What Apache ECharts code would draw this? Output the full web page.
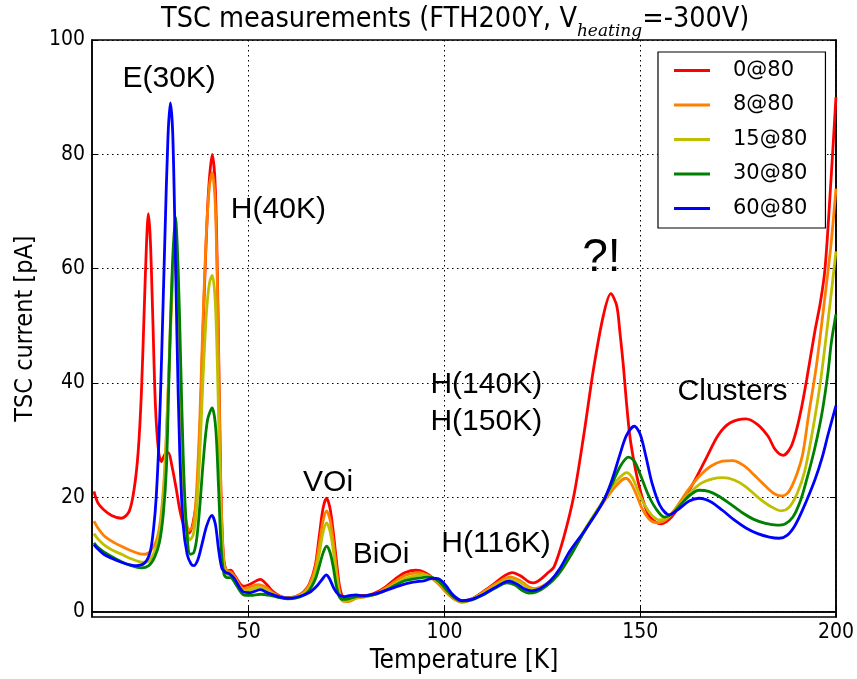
<!DOCTYPE html>
<html>
<head>
<meta charset="utf-8">
<script src="https://cdn.jsdelivr.net/npm/echarts@6/dist/echarts.min.js"></script>
<style>
  html, body { margin: 0; background: #fff; }
  #chart { width: 857px; height: 679px; }
</style>
</head>
<body>
<div id="chart"></div>
<script>
// [temperature K, current pA]
const red = [[10.5,21],[11.5,19],[13,17.8],[15,16.8],[17.5,16.3],[19.5,17.5],[20.8,21.6],[21.8,28],[22.6,38],[23.3,52],[23.9,64],[24.4,69.6],[24.9,65],[25.5,52],[26.2,36],[27,28],[27.7,26.2],[28.6,27.5],[29.5,27.8],[30.4,25.5],[31.5,21.5],[32.5,17.5],[33.5,15],[34.8,13.7],[35.8,15.5],[36.8,20],[37.6,32],[38.3,48],[39,62],[39.8,74],[40.7,80],[41.5,74],[42.2,52],[42.9,22],[43.6,9.5],[44.5,7.1],[45.4,7.2],[46.5,6.2],[48.7,4.4],[50.5,4.8],[52.1,5.4],[53,5.6],[54.5,4.8],[56,3.6],[58,2.7],[60,2.4],[62,2.6],[64,3.4],[65.5,4.8],[67,8],[68,13],[69,18],[69.9,19.8],[70.8,18],[71.6,14],[72.4,9],[73.2,4.5],[74.1,2.5],[75.5,2.3],[77.5,2.8],[80,2.8],[82.5,3.3],[85,4.3],[87.5,5.7],[90,6.8],[92.7,7.2],[95,6.8],[97.5,5.6],[100,3.8],[102,2.5],[104.5,1.8],[107,2.2],[110,3.5],[113,5],[115.5,6.3],[117.3,6.8],[119.5,6.2],[121.5,5.2],[122.8,5.0],[124.5,5.6],[126.5,6.8],[128,7.8],[130.5,13],[133.1,20.4],[135.6,30.9],[138.1,42.5],[140.6,51.8],[142.5,55.6],[144,53.5],[144.8,49],[145.7,43],[146.5,36.5],[147.3,31],[148.2,27],[149.2,23.5],[150.7,19.5],[152.5,16.5],[155.3,15.3],[158,16.5],[161,19.5],[164,23],[167,27],[170,30.9],[173,33],[177,33.7],[180,32.7],[182.7,30.6],[184.5,28.3],[186.5,27.3],[188.5,28.8],[190,32],[191.3,36],[192.5,40.5],[194.6,49],[196,54],[197.2,60],[198.5,73],[200,90]];
const orange = [[10.5,15.8],[11.5,14.6],[13,13.3],[15,12.3],[17.5,11.4],[20,10.6],[22,10.1],[23.5,10],[25,10.6],[26.5,12.5],[27.5,16],[28.5,24],[29.3,36],[30,48],[30.6,58],[31.1,62],[31.7,57],[32.3,42],[33,26],[33.8,17],[34.8,14.2],[35.8,15],[36.6,20],[37.5,33],[38.3,50],[39.2,66],[40,74.5],[40.7,76.8],[41.5,71],[42.2,50],[42.9,21],[43.6,9],[44.5,7],[45.4,6.9],[46.5,6],[48.7,4],[50.5,4.3],[52.5,4.7],[54.5,4.2],[56,3.3],[58,2.6],[60,2.4],[62,2.6],[64,3.3],[65.5,4.6],[67,7.5],[68,11.5],[69,15.8],[69.9,17.6],[70.8,16],[71.6,12.3],[72.4,7.5],[73.2,3.5],[74.1,1.8],[75.5,1.7],[77.5,2.3],[80,2.6],[82.5,3.1],[85,4.1],[87.5,5.3],[90,6.3],[93.5,6.8],[96,6.2],[98.5,4.8],[100.5,3.3],[102.5,2.1],[104.5,1.6],[107,2.1],[110,3.4],[113,4.8],[115.5,5.8],[117,6.0],[119.5,5.3],[121.5,4.3],[123,4.0],[125,4.4],[127.5,5.6],[130,7.5],[133,10.8],[136,14.3],[140,18.5],[143,21.3],[145,22.8],[146.3,23.3],[147.5,22.6],[149,20.5],[150.5,18],[152.5,16],[154.5,15.5],[156.5,16],[159,18],[162,21],[165,23.6],[168,25.4],[171,26.3],[173.6,26.4],[176.5,25.5],[179.5,23.6],[182.5,21.6],[184.5,20.5],[186.3,20.2],[188,21],[190,24],[191.5,27.5],[193,34.3],[195,43],[197,54],[198.7,64],[200,74]];
const yellow = [[10.5,13.6],[11.5,12.7],[13,11.7],[15,10.8],[17.5,10],[20,9.2],[22,8.7],[23.5,8.6],[25,9.2],[26.5,11.5],[27.5,15],[28.5,23],[29.3,36],[30,50],[30.6,60],[31.2,64],[31.8,58],[32.4,42],[33.1,26],[33.9,16],[34.9,12.5],[35.8,13.3],[36.6,17],[37.5,27],[38.3,40],[39.2,52],[40,57.5],[40.7,58.8],[41.5,54],[42.2,38],[42.9,18],[43.6,8.5],[44.5,6.5],[45.4,6.4],[46.5,5.6],[48.7,3.6],[50.5,3.8],[52.5,4.2],[54.5,3.8],[56,3.1],[58,2.5],[60,2.3],[62,2.5],[64,3.1],[65.5,4.2],[67,6.6],[68,10],[69,13.8],[69.9,15.5],[70.8,14],[71.6,10.8],[72.4,6.5],[73.2,3],[74.1,1.8],[75.5,1.9],[77.5,2.4],[80,2.6],[82.5,3.0],[85,3.8],[87.5,4.9],[90,5.8],[94.5,6.4],[97,5.9],[99,4.8],[101,3.3],[103,2.1],[104.8,1.7],[107,2.1],[110,3.2],[113,4.5],[115.5,5.4],[117,5.6],[119.5,5.0],[121.5,4.0],[123,3.8],[125,4.2],[127.5,5.4],[130,7.3],[133,10.8],[136,14.5],[140,18.8],[143,22],[145,23.6],[146.5,24.3],[148,23.4],[149.5,21],[151,18.8],[153,16.8],[155,16],[157,16.4],[159.5,18.2],[162.5,20.6],[165.5,22.4],[168.5,23.2],[171,23.4],[174,23],[177,21.8],[180,20],[183,18.5],[186,17.6],[188,18.2],[190,20.5],[192,24.5],[194,31.5],[196,40],[198,51],[200,63]];
const green = [[10.5,12],[11.5,11.2],[13,10.4],[15,9.6],[17.5,8.7],[20,8],[22.6,7.6],[24.5,8],[26,9.5],[27.2,12],[28.2,17],[29,25],[29.7,42],[30.5,60],[31.3,69],[32,60],[32.6,45],[33.3,27],[34.1,15],[35.1,10],[36,10.3],[36.8,13],[37.6,19],[38.5,27],[39.5,33.5],[40.7,35.6],[41.6,32],[42.3,22],[43,11],[43.7,6.5],[44.5,5.9],[45.4,5.9],[46.5,5],[48.7,2.9],[50.5,2.8],[53,3],[55.5,2.8],[58,2.4],[60,2.2],[62,2.3],[64,2.8],[65.5,3.7],[67,5.6],[68,7.8],[69,10.2],[69.9,11.4],[70.8,10.3],[71.6,7.8],[72.4,4.5],[73.2,2.5],[74.1,2.1],[75.5,2.2],[77.5,2.6],[80,2.7],[82.5,3.0],[85,3.7],[87.5,4.6],[90,5.4],[93,5.8],[96,6.0],[98.5,5.3],[100.5,3.8],[102.5,2.4],[104.5,1.8],[107,2.0],[110,2.9],[113,4.1],[116,5.0],[118,4.6],[120,3.6],[121.5,3.2],[123.5,3.4],[126,4.4],[129,6.4],[132,9.5],[136,14.3],[140,18.6],[143,22.6],[145,25.5],[147,27],[148.5,26.3],[150,24],[152,20.5],[154,18],[156.2,16.5],[158.5,17.3],[161,19.2],[163,20.5],[165,21.2],[167.5,21],[170,20.2],[173,18.8],[176,17.3],[179,16.1],[182,15.4],[185,15.1],[187,15.3],[189,16.5],[191,19.5],[192.5,23],[194.6,28.6],[196.5,35],[198,42],[198.8,47],[200,52]];
const blue = [[10.5,11.7],[11.5,10.9],[13,10],[15,9.3],[17.5,8.6],[20,8.1],[21.5,8],[23.5,8.5],[24.9,10.5],[25.8,15],[26.4,20],[27.1,30],[27.8,45],[28.6,65],[29.4,83],[30,89],[30.6,84],[31.2,66],[31.7,48],[32.4,28],[33.3,15],[34.3,10],[35.3,8.3],[36,8],[37,9],[38,11.5],[39.3,15],[40.6,16.8],[41.5,15.3],[42.3,11],[43.2,7.5],[44.2,6.8],[45,6.6],[46.3,5.8],[48.7,3.4],[50.5,3.3],[53,3.8],[55,3.2],[58,2.5],[60.5,2.3],[63,2.6],[65.5,3.3],[67.5,4.5],[69,5.8],[69.8,6.4],[70.6,5.8],[71.8,4],[73,2.9],[74.5,2.6],[76,2.8],[77.5,2.9],[79,2.7],[80.5,2.8],[83,3.2],[86,3.9],[89,4.6],[92,5.1],[95,5.4],[97,5.8],[98.5,5.7],[100.3,4.6],[102.3,2.8],[104.5,1.9],[107,2.1],[110,3.0],[113,4.2],[116.5,5.3],[118.5,4.8],[120.5,3.9],[122.3,3.6],[124.5,4.0],[127,5.3],[129.5,7.5],[132,10.5],[136.3,14.6],[140.6,19.3],[142.8,23],[144.8,27.4],[146.5,30.8],[148.5,32.4],[150,31],[151.5,27],[153,22.5],[155,18.6],[157.4,16.9],[160,18],[162.5,19.3],[165,19.8],[168,19.2],[171,17.7],[174,16],[177,14.6],[180,13.6],[183,13],[185.5,12.8],[187.5,13.3],[189.5,15],[191.5,17.8],[194.6,23],[196.5,27],[198,31],[200,36]];

const seriesNames = ['0@80', '8@80', '15@80', '30@80', '60@80'];
const seriesColors = ['#ff0000', '#ff7f00', '#bfbf00', '#008000', '#0000ff'];
const xTicks = [50, 100, 150, 200];
const yTicks = [0, 20, 40, 60, 80, 100];

// annotation texts at [T, pA]
const notes = [
  ['E(30K)', 29.7, 93.3],
  ['H(40K)', 57.6, 70.3],
  ['VOi', 70.3, 22.6],
  ['BiOi', 83.8, 10.0],
  ['H(116K)', 113.2, 11.8],
  ['H(140K)', 110.7, 39.6],
  ['H(150K)', 110.7, 33.2],
  ['?!', 140.1, 61.8],
  ['Clusters', 173.6, 38.4]
];

const condensed = '"DejaVu Sans Condensed", "DejaVu Sans", sans-serif';

const chart = echarts.init(document.getElementById('chart'));

const lines = [red, orange, yellow, green, blue].map(function (d, i) {
  return {
    name: seriesNames[i],
    type: 'line',
    data: d,
    smooth: 0.3,
    showSymbol: false,
    color: seriesColors[i],
    lineStyle: { width: 2.8, color: seriesColors[i] },
    z: 3 + i
  };
});

const frameAxis = {
  min: 10, max: 200,
  axisLine: { show: true, lineStyle: { color: '#000', width: 1.5 } },
  axisTick: { show: true, inside: true, length: 6, customValues: xTicks, lineStyle: { color: '#000' } }
};

chart.setOption({
  animation: false,
  backgroundColor: '#fff',
  title: {
    left: 156,
    top: 0,
    text: '{a|TSC measurements (FTH200Y, V}{s|heating}{a|=-300V)}',
    textStyle: {
      fontWeight: 'normal',
      rich: {
        a: { fontFamily: condensed, fontSize: 28.5, fontWeight: 'normal', color: '#000', verticalAlign: 'bottom', padding: [0, 0, 6, 0] },
        s: { fontFamily: '"DejaVu Serif", serif', fontStyle: 'italic', fontWeight: 'normal', fontSize: 17, color: '#000', verticalAlign: 'bottom' }
      }
    }
  },
  legend: {
    orient: 'vertical',
    left: 658,
    top: 52,
    data: seriesNames,
    icon: 'rect',
    itemWidth: 36,
    itemHeight: 3,
    itemGap: 13.5,
    padding: [8, 18, 9, 16],
    borderColor: '#000',
    borderWidth: 1.2,
    backgroundColor: '#fff',
    textStyle: { fontFamily: '"DejaVu Sans", sans-serif', fontSize: 21, color: '#000', padding: [0, 0, 0, 18] }
  },
  grid: { left: 92, right: 16, top: 40, bottom: 59, show: true, borderColor: '#000', borderWidth: 1.5 },
  xAxis: [{
    type: 'value',
    min: 10, max: 200,
    name: 'Temperature [K]',
    nameLocation: 'middle',
    nameGap: 27,
    nameTextStyle: { fontFamily: condensed, fontSize: 26, color: '#000' },
    axisLine: { show: true, lineStyle: { color: '#000', width: 1.5 } },
    axisTick: { show: true, inside: true, length: 6, customValues: xTicks, lineStyle: { color: '#000' } },
    axisLabel: { customValues: xTicks, margin: 5, fontFamily: condensed, fontSize: 21, color: '#000' },
    splitLine: { show: true, lineStyle: { color: '#000', width: 1, type: [1.5, 3.5] } }
  }, Object.assign({ type: 'value', position: 'top', axisLabel: { show: false }, splitLine: { show: false } }, frameAxis)],
  yAxis: [{
    type: 'value',
    min: -1, max: 100,
    name: 'TSC current [pA]',
    nameLocation: 'middle',
    nameGap: 50,
    nameTextStyle: { fontFamily: condensed, fontSize: 25, color: '#000' },
    axisLine: { show: true, lineStyle: { color: '#000', width: 1.5 } },
    axisTick: { show: true, inside: true, length: 6, customValues: yTicks, lineStyle: { color: '#000' } },
    axisLabel: { customValues: yTicks, margin: 7, fontFamily: condensed, fontSize: 21, color: '#000' },
    splitLine: { show: true, lineStyle: { color: '#000', width: 1, type: [1.5, 3.5] } }
  }, {
    type: 'value',
    position: 'right',
    min: -1, max: 100,
    axisLine: { show: true, lineStyle: { color: '#000', width: 1.5 } },
    axisTick: { show: true, inside: true, length: 6, customValues: yTicks, lineStyle: { color: '#000' } },
    axisLabel: { show: false },
    splitLine: { show: false }
  }],
  series: lines.concat([{
    name: 'notes',
    type: 'scatter',
    symbolSize: 0,
    silent: true,
    z: 10,
    itemStyle: { opacity: 1 },
    data: notes.map(function (n) {
      return {
        name: n[0],
        value: [n[1], n[2]],
        label: n[0] === '?!' ? { fontSize: 46 } : {}
      };
    }),
    label: {
      show: true,
      position: 'inside',
      formatter: '{b}',
      fontFamily: '"Liberation Sans", Arial, sans-serif',
      fontSize: 30,
      color: '#000',
      opacity: 1,
      textBorderWidth: 0
    }
  }])
});
</script>
</body>
</html>
